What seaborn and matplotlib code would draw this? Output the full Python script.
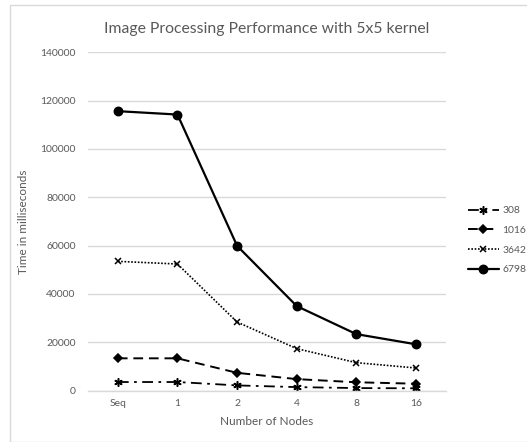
import matplotlib
matplotlib.use("Agg")
import matplotlib.pyplot as plt
import seaborn as sns
import pandas as pd
from matplotlib.patches import Rectangle

nodes = ["Seq", "1", "2", "4", "8", "16"]
s308 = [3600, 3600, 2200, 1500, 1100, 1000]
s1016 = [13400, 13400, 7400, 4800, 3500, 2900]
s3642 = [53500, 52400, 28400, 17400, 11600, 9400]
s6798 = [115600, 114200, 59900, 35000, 23400, 19200]
series_names = ["308", "1016", "3642", "6798"]
yticks = [0, 20000, 40000, 60000, 80000, 100000, 120000, 140000]

sns.set_theme(style="white")
plt.rcParams['font.family'] = ['Lato', 'DejaVu Sans']
gray = "#595959"

fig = plt.figure(figsize=(5.27, 4.42), dpi=100)
ax = fig.add_axes([0.167, 0.116, 0.679, 0.766])

fig.patches.append(Rectangle((10/527, 0), 1, 1 - 5/442, transform=fig.transFigure,
                             fill=False, edgecolor="#d9d9d9", linewidth=1))

styles = {
    "308": dict(marker=(6, 2, 0), linestyle=(0, (6, 3, 1.5, 3)), markersize=6, linewidth=1.3),
    "1016": dict(marker="D", linestyle=(0, (5, 3)), markersize=3.8, linewidth=1.4),
    "3642": dict(marker="x", linestyle=(0, (1, 1)), markersize=5, linewidth=1.2),
    "6798": dict(marker="o", linestyle="-", markersize=6, linewidth=1.6),
}
for name, vals in zip(series_names, [s308, s1016, s3642, s6798]):
    df = pd.DataFrame({"Nodes": nodes, "Time": vals})
    st = styles[name]
    sns.lineplot(data=df, x="Nodes", y="Time", ax=ax, color="black", label=name,
                 marker=st["marker"], markersize=st["markersize"], linewidth=st["linewidth"],
                 markeredgecolor="black", markeredgewidth=1.1, sort=False)
    ax.lines[-1].set_linestyle(st["linestyle"])

ax.set_xlim(-0.5, 5.5)
ax.set_ylim(0, 140000)
ax.set_yticks(yticks)
ax.set_yticklabels([str(t) for t in yticks])
ax.yaxis.grid(True, color="#d9d9d9", linewidth=1)
ax.xaxis.grid(False)
for side in ["top", "right", "left"]:
    ax.spines[side].set_visible(False)
ax.spines["bottom"].set_color("#d9d9d9")
ax.spines["bottom"].set_linewidth(1)
ax.tick_params(axis="both", colors=gray, labelsize=7.5, length=0, pad=9)
ax.tick_params(axis="x", pad=6)
ax.set_xlabel("Number of Nodes", color=gray, fontsize=8.5, labelpad=6)
ax.set_ylabel("Time in milliseconds", color=gray, fontsize=8.5, labelpad=8)
ax.set_title("Image Processing Performance with 5x5 kernel", color=gray, fontsize=11.3, pad=14)

leg = ax.legend(loc="center left", bbox_to_anchor=(1.035, 0.445), frameon=False,
                fontsize=7.5, handlelength=3.0, labelspacing=1.0, handletextpad=0.3)
for t in leg.get_texts():
    t.set_color(gray)

fig.savefig("out.png", dpi=100)
